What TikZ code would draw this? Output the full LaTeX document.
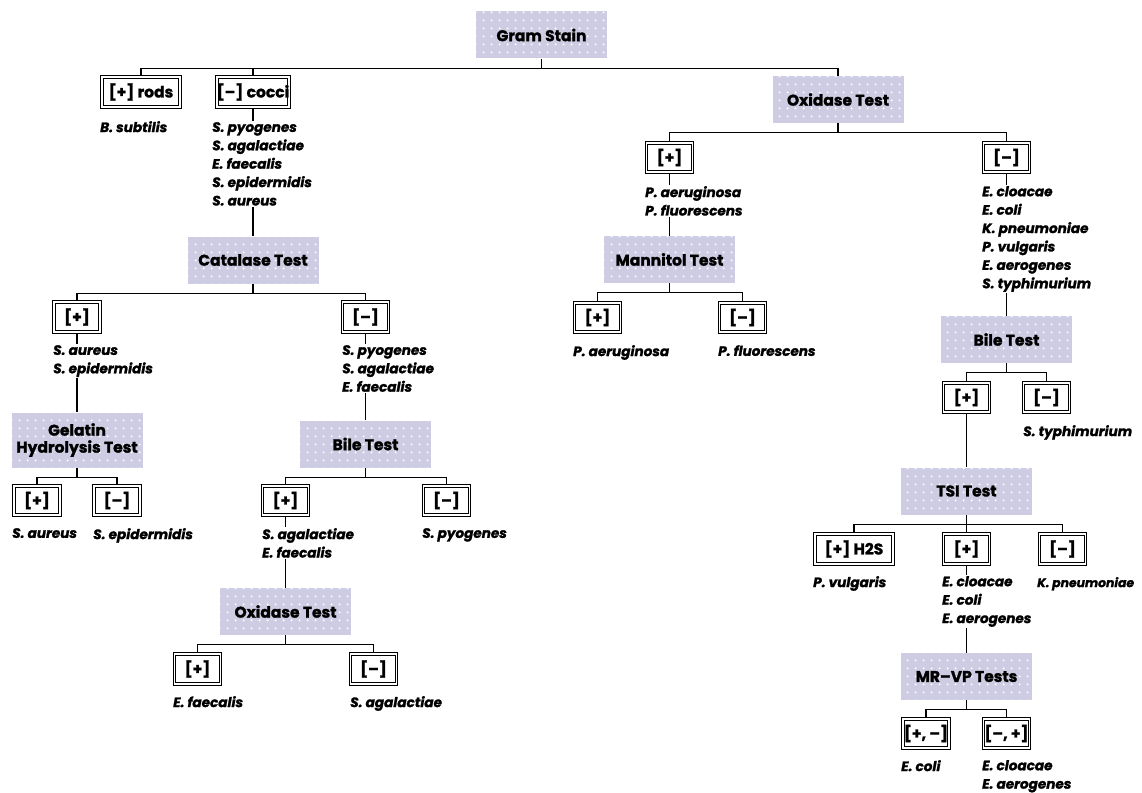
\documentclass[tikz,border=0pt]{standalone}
\usepackage{fontspec}
\setmainfont{Poppins}[BoldFeatures={FakeBold=1.5},BoldItalicFeatures={FakeBold=1.5}]
\usetikzlibrary{patterns.meta,backgrounds}
\definecolor{lav}{RGB}{206,204,226}
\tikzdeclarepattern{
  name=tdots,
  type=uncolored,
  bottom left={(0pt,0pt)},
  top right={(8pt,8pt)},
  tile size={(8pt,8pt)},
  code={\fill (4pt,4pt) circle (1.2pt);}
}
\newcommand\ttlfnt{\bfseries\fontsize{15.5}{17}\selectfont}
\newcommand\spfnt{\bfseries\itshape\fontsize{13.6}{18.4}\selectfont}
\begin{document}
\begin{tikzpicture}[x=1pt,y=-1pt,
  testbox/.style={preaction={fill=lav},pattern=tdots,pattern color=white,
    minimum width=131pt,minimum height=47pt,inner sep=0pt,font=\ttlfnt,align=center},
  resbox/.style={draw=black,line width=0.9pt,double=white,double distance=1.8pt,
    minimum width=46pt,minimum height=29.5pt,inner sep=0pt,font=\ttlfnt},
  species/.style={anchor=north west,fill=white,inner sep=1pt,align=left,font=\spfnt},
  conn/.style={line width=1.4pt}]
\useasboundingbox (0,0) rectangle (1142,792);
% Gram stain level
\node[testbox] (gram) at (541.5,35) {Gram Stain};
\node[resbox,minimum width=78pt] (rods) at (141,92) {[+] rods};
\node[resbox,minimum width=68pt] (cocci) at (253,92) {[–] cocci};
\node[species] (srods) at (99,120) {B. subtilis};
\node[species] (scocci) at (211,121) {S. pyogenes\\S. agalactiae\\E. faecalis\\S. epidermidis\\S. aureus};
% Catalase
\node[testbox] (cat) at (253,260) {Catalase Test};
\node[resbox] (catP) at (77,317) {[+]};
\node[resbox] (catN) at (365.5,317) {[–]};
\node[species] (scatP) at (52,344) {S. aureus\\S. epidermidis};
\node[species] (scatN) at (341,344) {S. pyogenes\\S. agalactiae\\E. faecalis};
% Gelatin
\node[testbox,minimum height=55pt] (gel) at (77,440) {Gelatin\\Hydrolysis Test};
\node[resbox] (gelP) at (37,500.5) {[+]};
\node[resbox] (gelN) at (117,500.5) {[–]};
\node[species] (sgelP) at (11,527) {S. aureus};
\node[species] (sgelN) at (92,527) {S. epidermidis};
% Bile left
\node[testbox] (bileL) at (365.5,444) {Bile Test};
\node[resbox] (bileLP) at (285.5,500.5) {[+]};
\node[resbox] (bileLN) at (446.5,500.5) {[–]};
\node[species] (sbileLP) at (261,527) {S. agalactiae\\E. faecalis};
\node[species] (sbileLN) at (421,527) {S. pyogenes};
% Oxidase left
\node[testbox] (oxL) at (285.5,611.5) {Oxidase Test};
\node[resbox] (oxLP) at (197.5,669) {[+]};
\node[resbox] (oxLN) at (373.5,669) {[–]};
\node[species] (soxLP) at (172,695) {E. faecalis};
\node[species] (soxLN) at (349,695) {S. agalactiae};
% Oxidase right
\node[testbox] (oxR) at (838,99.5) {Oxidase Test};
\node[resbox] (oxRP) at (669.5,157.5) {[+]};
\node[resbox] (oxRN) at (1006.5,157.5) {[–]};
\node[species] (soxRP) at (644,185) {P. aeruginosa\\P. fluorescens};
\node[species] (soxRN) at (981,185) {E. cloacae\\E. coli\\K. pneumoniae\\P. vulgaris\\E. aerogenes\\S. typhimurium};
% Mannitol
\node[testbox] (man) at (669.5,259.5) {Mannitol Test};
\node[resbox] (manP) at (597.5,317.5) {[+]};
\node[resbox] (manN) at (742.5,317.5) {[–]};
\node[species] (smanP) at (572,344) {P. aeruginosa};
\node[species] (smanN) at (717,344) {P. fluorescens};
% Bile right
\node[testbox] (bileR) at (1006.5,339.5) {Bile Test};
\node[resbox] (bileRP) at (966.5,397.5) {[+]};
\node[resbox] (bileRN) at (1046.5,397.5) {[–]};
\node[species] (sbileRN) at (1022,424) {S. typhimurium};
% TSI
\node[testbox] (tsi) at (966.5,491) {TSI Test};
\node[resbox,minimum width=78pt] (tsiA) at (854,549) {[+] H2S};
\node[resbox] (tsiB) at (966.5,549) {[+]};
\node[resbox] (tsiC) at (1062.5,549) {[–]};
\node[species] (stsiA) at (812,575) {P. vulgaris};
\node[species] (stsiB) at (941,575) {E. cloacae\\E. coli\\E. aerogenes};
\node[species,font=\bfseries\itshape\fontsize{12.4}{18.4}\selectfont] (stsiC) at (1036,576) {K. pneumoniae};
% MR-VP
\node[testbox] (mrvp) at (966.5,676.5) {MR–VP Tests};
\node[resbox] (mrA) at (926,733.5) {[+, –]};
\node[resbox] (mrB) at (1006.5,733.5) {[–, +]};
\node[species] (smrA) at (900,759) {E. coli};
\node[species] (smrB) at (981,759) {E. cloacae\\E. aerogenes};
% connectors
\begin{scope}[on background layer]
\fill[white] (0,0) rectangle (1142,792);
\draw[conn] (gram.south) -- ++(0,9.5) coordinate (bG) -| (rods.north) (bG) -| (cocci.north) (bG) -| (oxR.north);
\draw[conn] (cat.south) -- ++(0,9.5) coordinate (bC) -| (catP.north) (bC) -| (catN.north);
\draw[conn] (gel.south) -- ++(0,9.5) coordinate (bGe) -| (gelP.north) (bGe) -| (gelN.north);
\draw[conn] (bileL.south) -- ++(0,9.5) coordinate (bBL) -| (bileLP.north) (bBL) -| (bileLN.north);
\draw[conn] (oxL.south) -- ++(0,9.5) coordinate (bOL) -| (oxLP.north) (bOL) -| (oxLN.north);
\draw[conn] (oxR.south) -- ++(0,9.5) coordinate (bOR) -| (oxRP.north) (bOR) -| (oxRN.north);
\draw[conn] (man.south) -- ++(0,9.5) coordinate (bM) -| (manP.north) (bM) -| (manN.north);
\draw[conn] (bileR.south) -- ++(0,9.5) coordinate (bBR) -| (bileRP.north) (bBR) -| (bileRN.north);
\draw[conn] (tsi.south) -- ++(0,9.5) coordinate (bT) -| (tsiA.north) (bT) -| (tsiB.north) (bT) -| (tsiC.north);
\draw[conn] (mrvp.south) -- ++(0,9.5) coordinate (bMR) -| (mrA.north) (bMR) -| (mrB.north);
\draw[conn] (cocci.south) -- (cat.north);
\draw[conn] (catP.south) -- (gel.north);
\draw[conn] (catN.south) -- (bileL.north);
\draw[conn] (bileLP.south) -- (oxL.north);
\draw[conn] (oxRP.south) -- (man.north);
\draw[conn] (oxRN.south) -- (bileR.north);
\draw[conn] (bileRP.south) -- (tsi.north);
\draw[conn] (tsiB.south) -- (mrvp.north);
\end{scope}
\end{tikzpicture}
\end{document}
